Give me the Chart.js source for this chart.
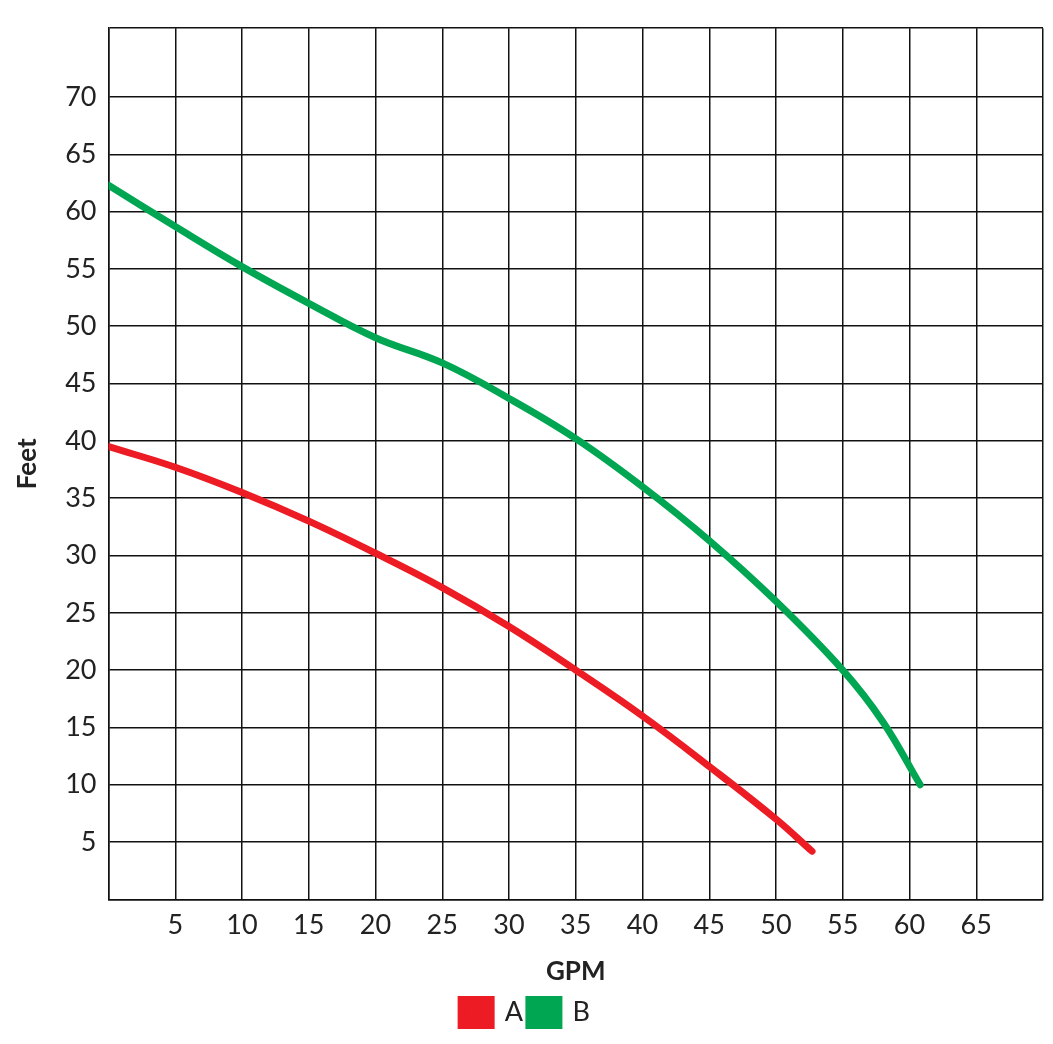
<!DOCTYPE html><html><head><script src="https://cdn.jsdelivr.net/npm/chart.js@4"></script>
<style>html,body{margin:0;background:#fff}#w{width:1053px;height:1044px}</style></head><body><div id="w"><canvas id="c"></canvas></div>
<script>
const seriesA=[[0,39.5],[5,37.7],[10,35.5],[15,33],[20,30.2],[25,27.2],[30,23.8],[35,20],[40,16],[45,11.6],[50,7],[52.7,4.2]];
const seriesB=[[0,62.3],[5,58.7],[10,55.2],[15,52],[20,49],[25,46.8],[30,43.7],[35,40.2],[40,36],[45,31.3],[50,26],[55,20],[58,15.5],[60.8,10]];
const xTicks=[0,5,10,15,20,25,30,35,40,45,50,55,60,65,70];
const yTicks=[0,5,10,15,20,25,30,35,40,45,50,55,60,65,70,76];
const pts=a=>a.map(p=>({x:p[0],y:p[1]}));
const f={family:'Lato',size:27};
new Chart(document.getElementById('c'),{type:'scatter',data:{datasets:[
{label:'A',data:pts(seriesA),showLine:true,borderColor:'#ed1c24',backgroundColor:'#ed1c24',borderWidth:7,pointRadius:0,tension:0.4,borderCapStyle:'round'},
{label:'B',data:pts(seriesB),showLine:true,borderColor:'#00a651',backgroundColor:'#00a651',borderWidth:7,pointRadius:0,tension:0.4,borderCapStyle:'round'}]},
options:{responsive:true,maintainAspectRatio:false,animation:false,layout:{padding:{top:-6,right:10,left:8,bottom:8}},
plugins:{legend:{position:'bottom',labels:{font:f,color:'#222',boxWidth:30,boxHeight:26,padding:6}},tooltip:{enabled:false}},
scales:{x:{type:'linear',min:0,max:70,afterBuildTicks:a=>{a.ticks=xTicks.map(v=>({value:v}))},
ticks:{font:f,color:'#222',autoSkip:false,maxRotation:0,padding:10,callback:v=>(v===0||v===70)?'':v},
grid:{color:'#111',lineWidth:1.5,drawTicks:false},border:{color:'#111',width:1.5},
title:{display:true,text:'GPM',font:{family:'Lato',size:26,weight:'bold'},color:'#222',padding:{top:4,bottom:6}}},
y:{type:'linear',min:0,max:76,afterBuildTicks:a=>{a.ticks=yTicks.map(v=>({value:v}))},
ticks:{font:f,color:'#222',autoSkip:false,padding:12,callback:v=>(v===0||v===76)?'':v},
grid:{color:'#111',lineWidth:1.5,drawTicks:false},border:{color:'#111',width:1.5},
title:{display:true,text:'Feet',font:{family:'Lato',size:26,weight:'bold'},color:'#222',padding:{bottom:10}}}}}});
</script></body></html>
